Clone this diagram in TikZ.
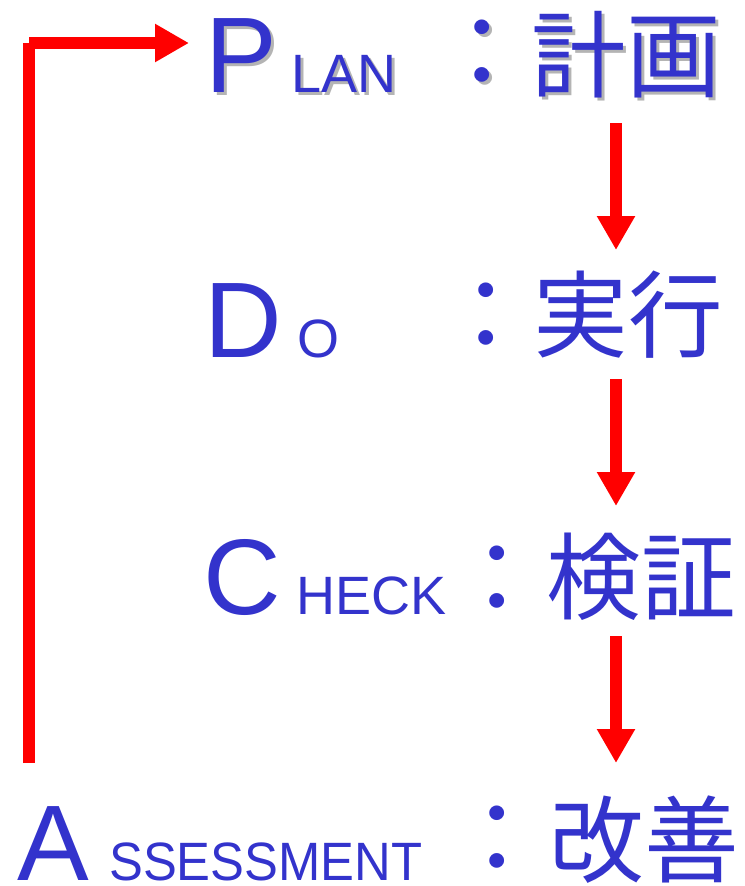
\documentclass[tikz,border=0pt]{standalone}
\usepackage{fontspec}
\setmainfont{Liberation Sans}
\newfontfamily\cjk{Noto Sans CJK JP}
\usetikzlibrary{arrows.meta}
\definecolor{pdblue}{HTML}{3333CC}
\definecolor{pdred}{HTML}{FF0000}
\definecolor{pdshadow}{HTML}{B4B4B4}
\newcommand{\pdcolon}{：}
\tikzset{
  big/.style={inner sep=0pt, anchor=base west, text=pdblue, font=\fontsize{80.6pt}{80pt}\selectfont},
  small/.style={inner sep=0pt, anchor=base west, text=pdblue, font=\fontsize{40.5pt}{40pt}\selectfont},
  kanji/.style={inner sep=0pt, anchor=center, text=pdblue, font=\cjk\fontsize{71pt}{71pt}\selectfont},
  colon/.style={inner sep=0pt, anchor=center, text=pdblue, font=\cjk\fontsize{73pt}{73pt}\selectfont},
  shadowed/.style={text=pdshadow},
  redarrow/.style={draw=pdred, line width=9pt, -{Triangle[width=27pt,length=25.5pt]}},
  redline/.style={draw=pdred, line width=9pt},
}
\begin{document}
\begin{tikzpicture}[x=0.75pt,y=-0.75pt]
\useasboundingbox (0,0) rectangle (744,886);
% PLAN row (with shadow)
\node[big,shadowed] at (208,95) {P};
\node[small,shadowed] at (294,95) {LAN};
\node[colon,shadowed] at (485,57) {\pdcolon};
\node[kanji,shadowed] at (629,58) {計画};
\node[big] (P) at (205,92) {P};
\node[small] (lan) at (291,92) {LAN};
\node[colon] (c1) at (482,54) {\pdcolon};
\node[kanji] (k1) at (626,55) {計画};
% DO row
\node[big] (D) at (204,357) {D};
\node[small] (o) at (297,357) {O};
\node[colon] (c2) at (486,316.5) {\pdcolon};
\node[kanji] (k2) at (628,315) {実行};
% CHECK row
\node[big] (C) at (203,614) {C};
\node[small] (heck) at (296,614) {HECK};
\node[colon] (c3) at (497,579.5) {\pdcolon};
\node[kanji] (k3) at (641,577) {検証};
% ASSESSMENT row
\node[big] (A) at (17,880) {A};
\node[small] (ssess) at (109,880) {\scalebox{0.94}[1]{SSESSMENT}};
\node[colon] (c4) at (497,840) {\pdcolon};
\node[kanji] (k4) at (644,840) {改善};
% arrows
\coordinate (a1s) at (616,123);
\coordinate (a1e) at (616,250);
\coordinate (a2s) at (616,379);
\coordinate (a2e) at (616,506);
\coordinate (a3s) at (616,636);
\coordinate (a3e) at (616,763);
\draw[redarrow] (a1s) -- (a1e);
\draw[redarrow] (a2s) -- (a2e);
\draw[redarrow] (a3s) -- (a3e);
\coordinate (lb) at (29,763);
\coordinate (lt) at (29,43);
\coordinate (le) at (189,43);
\draw[redline] (lb) -- (lt);
\draw[redarrow] (lt) -- (le);
\end{tikzpicture}
\end{document}
